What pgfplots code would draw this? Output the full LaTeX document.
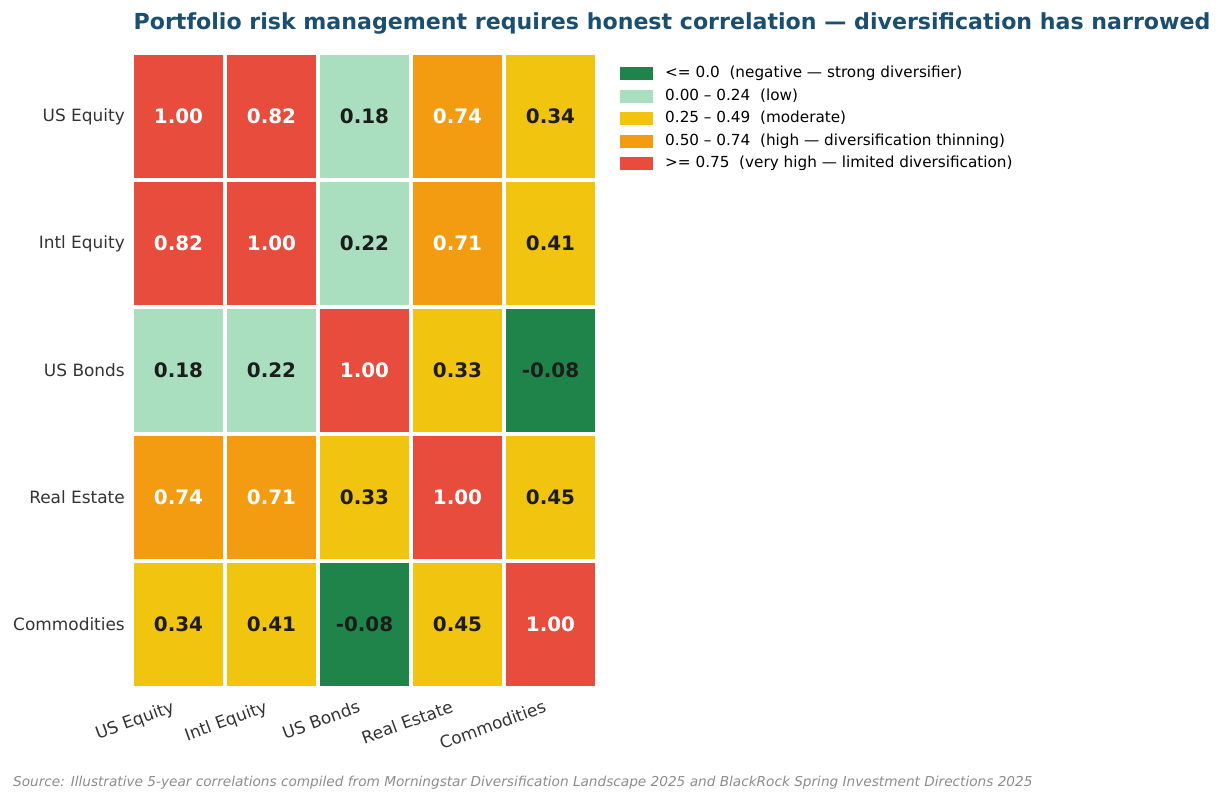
\documentclass[border=0pt]{standalone}
\usepackage{pgfplots}
\pgfplotsset{compat=1.18}
\usepackage{pgfplotstable}
\usepackage{fontspec}
\setmainfont{DejaVu Sans}

\definecolor{cNeg}{HTML}{1E8449}
\definecolor{cLow}{HTML}{A9DFBF}
\definecolor{cMod}{HTML}{F1C40F}
\definecolor{cHigh}{HTML}{F39C12}
\definecolor{cVHigh}{HTML}{E74C3C}
\definecolor{titleblue}{HTML}{1B4F72}
\definecolor{ticktext}{HTML}{333333}
\definecolor{darklabel}{HTML}{1C1C1C}
\definecolor{sourcegray}{HTML}{8C8C8C}

% one heatmap cell, centred on the data point (white gaps left between cells)
\pgfdeclareplotmark{cell}{%
  \pgfpathrectangle{\pgfpoint{-44.75bp}{-61.75bp}}{\pgfpoint{89.5bp}{123.5bp}}%
  \pgfusepathqfill}

% c = column (asset), r = row (asset), v = correlation
\pgfplotstableread{
c r v
4 2 -0.08
2 4 -0.08
}\negtab
\pgfplotstableread{
c r v
2 0 0.18
2 1 0.22
0 2 0.18
1 2 0.22
}\lowtab
\pgfplotstableread{
c r v
4 0 0.34
4 1 0.41
3 2 0.33
2 3 0.33
4 3 0.45
0 4 0.34
1 4 0.41
3 4 0.45
}\modtab
\pgfplotstableread{
c r v
3 0 0.74
3 1 0.71
0 3 0.74
1 3 0.71
}\hightab
\pgfplotstableread{
c r v
0 0 1.00
1 0 0.82
0 1 0.82
1 1 1.00
2 2 1.00
3 3 1.00
4 4 1.00
}\vhightab

\begin{document}
\begin{tikzpicture}
\path[use as bounding box] (0,0) rectangle (1224bp,800bp);
\begin{axis}[
  at={(132bp,112bp)}, anchor=south west,
  scale only axis, width=465bp, height=635bp,
  xmin=-0.5, xmax=4.5, ymin=-0.5, ymax=4.5,
  y dir=reverse,
  axis line style={draw=none},
  major tick length=0pt,
  xtick={0,...,4}, ytick={0,...,4},
  xticklabels={US Equity, Intl Equity, US Bonds, Real Estate, Commodities},
  yticklabels={US Equity, Intl Equity, US Bonds, Real Estate, Commodities},
  yticklabel style={font=\fontsize{17}{20}\selectfont, text=ticktext, inner sep=0pt, xshift=-7bp},
  xticklabel style={font=\fontsize{17}{20}\selectfont, text=ticktext, inner sep=0pt,
    rotate=20, anchor=north east, xshift=-11bp, yshift=-8bp},
  clip=false,
  point meta=explicit,
  nodes near coords={\pgfmathprintnumber[fixed,fixed zerofill,precision=2,assume math mode=true]{\pgfplotspointmeta}},
  every node near coord/.append style={anchor=center, font=\fontsize{20}{24}\selectfont\bfseries},
  legend image code/.code={\fill (0bp,-6.5bp) rectangle (33bp,6.5bp);},
  legend cell align=left,
  legend style={at={(1.0495,0.980)}, anchor=north west, draw=none, fill=none,
    inner sep=0pt, row sep=7.3bp,
    font=\fontsize{15.3}{18}\selectfont,
    nodes={inner sep=0pt, text height=11.5bp, text depth=3.8bp},
    /tikz/every odd column/.append style={column sep=12bp}},
]
\addplot[only marks, mark=cell, fill=cNeg, draw=none,
  every node near coord/.append style={text=darklabel}]
  table[x=c, y=r, meta=v] {\negtab};
\addlegendentry{<= 0.0\ \ (negative — strong diversifier)}
\addplot[only marks, mark=cell, fill=cLow, draw=none,
  every node near coord/.append style={text=darklabel}]
  table[x=c, y=r, meta=v] {\lowtab};
\addlegendentry{0.00 – 0.24\ \ (low)}
\addplot[only marks, mark=cell, fill=cMod, draw=none,
  every node near coord/.append style={text=darklabel}]
  table[x=c, y=r, meta=v] {\modtab};
\addlegendentry{0.25 – 0.49\ \ (moderate)}
\addplot[only marks, mark=cell, fill=cHigh, draw=none,
  every node near coord/.append style={text=white}]
  table[x=c, y=r, meta=v] {\hightab};
\addlegendentry{0.50 – 0.74\ \ (high — diversification thinning)}
\addplot[only marks, mark=cell, fill=cVHigh, draw=none,
  every node near coord/.append style={text=white}]
  table[x=c, y=r, meta=v] {\vhightab};
\addlegendentry{>= 0.75\ \ (very high — limited diversification)}
\end{axis}
\node[anchor=base, font=\fontsize{22.2}{26}\selectfont\bfseries, text=titleblue]
  at (672bp,770.7bp) {Portfolio risk management requires honest correlation — diversification has narrowed};
\node[anchor=base west, inner sep=0pt, font=\fontsize{13.7}{16}\selectfont\itshape, text=sourcegray]
  at (13bp,13.3bp) {Source: Illustrative 5-year correlations compiled from Morningstar Diversification Landscape 2025 and BlackRock Spring Investment Directions 2025};
\end{tikzpicture}
\end{document}
